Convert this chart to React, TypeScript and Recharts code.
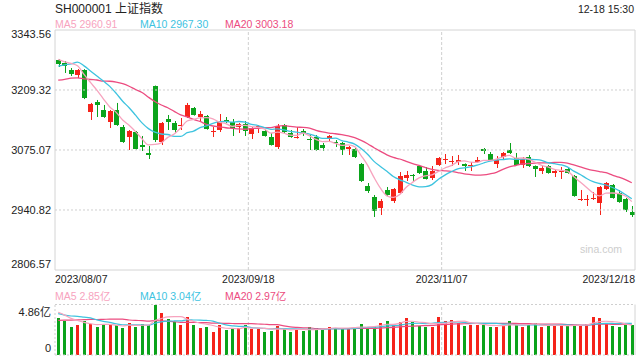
import React from 'react';
import { ComposedChart, Bar, Line, XAxis, YAxis, ReferenceLine } from 'recharts';

const RED = '#f5231a';
const GREEN = '#0ba31b';
const MA5C = '#f7a3be';
const MA10C = '#3dc3df';
const MA20C = '#ec4c80';
const GRID = '#cfcfcf';
const BORDER = '#d4d4d4';
const FONT = '"Liberation Sans", Arial, "Noto Sans CJK SC", sans-serif';

const W = 640;
const MARGIN_RIGHT = 5;
const MAIN_TOP = 30;
const MAIN_AXIS_H = 30;
const MAIN_H = 300;

const title = 'SH000001 上证指数';
const timeLabel = '12-18 15:30';
const priceLegend = ['MA5 2960.91', 'MA10 2967.30', 'MA20 3003.18'];
const volLegend = ['MA5 2.85亿', 'MA10 3.04亿', 'MA20 2.97亿'];
const priceTicks = [2806.57, 2940.82, 3075.07, 3209.32, 3343.56];
const volTicks = [0, 4.86];
const volTickLabels = ['0', '4.86亿'];
// session index where each date label / vertical gridline sits (band start; last = band end)
const dateTicks = [0, 30, 60, 89];
const dateLabels = ['2023/08/07', '2023/09/18', '2023/11/07', '2023/12/18'];
const watermark = 'sina.com';

// closes of the 19 sessions before 2023/08/07 (for the moving averages)
const priorCloses = [3221, 3196, 3236, 3237, 3209, 3198, 3199, 3169, 3168, 3165,
  3231, 3223, 3216, 3276, 3291, 3290, 3262, 3281, 3288];
const priorVolumes = [2.6, 2.7, 2.5, 2.9, 2.6, 2.8, 2.5, 2.6, 2.7, 2.9,
  4.6, 3.6, 3.3, 4.0, 3.75, 4.6, 4.3, 3.9, 4.15];

const opens = [3276.4, 3269.7, 3254.1, 3242.9, 3254.1, 3160.1, 3182.5, 3164.6, 3137.7, 3164.6,
  3126.5, 3104.1, 3115.3, 3086.2, 3068.4, 3218.3, 3092.9, 3144.4, 3135.5, 3128.7,
  3148.9, 3169.0, 3148.9, 3151.1, 3115.3, 3119.8, 3142.2, 3137.7, 3126.5, 3133.2,
  3110.9, 3126.5, 3117.6, 3104.1, 3081.8, 3131.0, 3113.1, 3101.9, 3117.6, 3099.7,
  3104.1, 3086.2, 3101.9, 3092.9, 3090.7, 3077.3, 3077.3, 3043.7, 2994.5, 2969.9,
  2945.3, 2985.6, 2961.0, 2978.9, 3012.4, 3019.1, 3039.3, 3028.1, 3012.4, 3041.5,
  3052.7, 3048.2, 3048.2, 3043.7, 3039.3, 3048.2, 3077.3, 3066.1, 3043.7, 3059.4,
  3075.1, 3057.2, 3041.5, 3059.4, 3039.3, 3028.1, 3039.3, 3023.6, 3025.8, 3032.6,
  3016.9, 2963.2, 2963.2, 2965.4, 2956.5, 2987.8, 2996.8, 2978.9, 2965.4, 2936.3];

const highs = [3278.7, 3274.2, 3258.5, 3256.3, 3256.0, 3180.3, 3187.0, 3175.8, 3164.6, 3180.3,
  3131.0, 3119.8, 3117.6, 3106.4, 3084.0, 3219.3, 3137.7, 3153.4, 3139.9, 3146.6,
  3180.3, 3171.3, 3162.3, 3153.4, 3126.5, 3155.6, 3148.9, 3144.4, 3135.5, 3139.9,
  3126.5, 3131.0, 3119.8, 3113.1, 3133.2, 3133.2, 3119.8, 3126.5, 3122.0, 3108.6,
  3108.6, 3090.7, 3108.6, 3097.4, 3092.9, 3084.0, 3079.5, 3046.0, 3001.2, 2974.4,
  2965.4, 2992.3, 2990.0, 3025.8, 3028.1, 3021.4, 3041.5, 3037.0, 3039.3, 3059.4,
  3066.1, 3061.6, 3063.9, 3045.0, 3048.2, 3059.4, 3079.5, 3070.6, 3061.6, 3070.6,
  3090.7, 3068.4, 3059.4, 3063.9, 3040.5, 3039.3, 3041.5, 3030.3, 3037.0, 3037.0,
  3019.1, 2985.6, 2974.4, 2981.1, 2994.5, 3003.5, 2999.0, 2985.6, 2967.7, 2949.8];

const lows = [3260.8, 3247.4, 3240.6, 3236.2, 3189.0, 3142.2, 3148.9, 3147.0, 3124.3, 3129.0,
  3091.0, 3075.1, 3076.0, 3072.8, 3054.9, 3092.9, 3086.2, 3119.8, 3113.1, 3119.8,
  3146.6, 3152.0, 3137.7, 3120.5, 3104.1, 3115.3, 3135.5, 3106.4, 3113.1, 3106.4,
  3099.7, 3113.1, 3105.0, 3085.0, 3077.3, 3113.1, 3102.5, 3100.5, 3106.4, 3075.1,
  3072.8, 3072.8, 3092.9, 3081.8, 3063.9, 3063.9, 3057.2, 3003.5, 2978.9, 2925.2,
  2929.6, 2972.1, 2956.5, 2977.0, 3005.7, 3005.7, 3021.4, 3009.0, 3007.9, 3039.3,
  3043.7, 3039.3, 3041.5, 3028.1, 3028.1, 3046.0, 3066.1, 3051.0, 3034.8, 3052.7,
  3066.1, 3040.0, 3034.8, 3037.0, 3014.7, 3021.4, 3022.0, 3014.7, 3010.2, 3022.0,
  2970.5, 2961.0, 2949.8, 2963.2, 2929.6, 2985.6, 2966.0, 2957.0, 2936.3, 2925.2];

const closes = [3267.5, 3263.0, 3245.1, 3254.1, 3191.4, 3178.0, 3175.8, 3148.9, 3162.3, 3131.0,
  3092.9, 3117.6, 3077.3, 3081.8, 3063.9, 3097.4, 3135.5, 3137.7, 3119.8, 3131.0,
  3175.8, 3153.4, 3155.6, 3122.0, 3117.6, 3137.7, 3137.7, 3124.3, 3133.2, 3117.6,
  3124.3, 3128.7, 3106.4, 3086.2, 3128.7, 3115.3, 3104.1, 3104.1, 3113.1, 3097.4,
  3075.1, 3079.5, 3106.4, 3090.7, 3075.1, 3081.8, 3059.4, 3005.7, 2983.3, 2938.6,
  2961.0, 2974.4, 2987.8, 3016.9, 3019.1, 3016.9, 3023.6, 3010.2, 3028.1, 3057.2,
  3054.9, 3050.5, 3052.7, 3039.3, 3041.5, 3052.7, 3072.8, 3052.7, 3052.7, 3068.4,
  3068.4, 3041.5, 3054.9, 3039.3, 3032.6, 3034.8, 3023.6, 3028.1, 3028.1, 3023.6,
  2972.1, 2965.4, 2965.4, 2967.7, 2992.3, 3001.2, 2967.7, 2958.7, 2940.8, 2929.6];

const volumes = [3.60, 3.24, 2.72, 2.92, 3.24, 3.01, 2.72, 2.85, 2.92, 2.85,
  2.62, 3.11, 2.72, 3.01, 2.92, 4.86, 4.02, 3.50, 3.14, 2.92,
  3.69, 2.92, 2.62, 2.72, 2.24, 2.92, 2.37, 2.53, 2.56, 2.92,
  2.53, 2.53, 2.24, 2.33, 2.82, 2.49, 2.24, 2.43, 2.33, 2.66,
  2.56, 2.49, 2.72, 2.59, 2.59, 2.59, 2.69, 3.01, 2.59, 2.79,
  3.11, 3.30, 2.92, 3.21, 3.60, 3.21, 2.82, 2.72, 2.72, 3.69,
  3.30, 3.40, 3.11, 2.82, 2.92, 2.92, 2.92, 2.72, 2.72, 2.82,
  3.30, 2.92, 2.72, 2.92, 3.11, 2.72, 2.82, 2.82, 2.82, 2.92,
  2.82, 2.92, 3.01, 3.69, 3.60, 3.01, 2.75, 2.72, 2.90, 2.92];

const avg = (arr: number[], end: number, n: number) => {
  let s = 0;
  for (let k = end - n + 1; k <= end; k++) s += arr[k];
  return s / n;
};

const allC = [...priorCloses, ...closes];
const allV = [...priorVolumes, ...volumes];
const P = priorCloses.length;

const data = closes.map((c, i) => {
  const k = i + P;
  return {
    i,
    open: opens[i],
    high: highs[i],
    low: lows[i],
    close: c,
    range: [lows[i], highs[i]],
    up: c >= opens[i],
    vol: volumes[i],
    ma5: avg(allC, k, 5),
    ma10: avg(allC, k, 10),
    ma20: avg(allC, k, 20),
    vma5: avg(allV, k, 5),
    vma10: avg(allV, k, 10),
    vma20: avg(allV, k, 20),
  };
});

const Candle = (props: any) => {
  const { x, y, width, height, payload } = props;
  const { open, close, high, low } = payload;
  const color = close >= open ? RED : GREEN;
  const top = height >= 0 ? y : y + height;
  const span = Math.abs(height);
  const k = span / (high - low || 1);
  const yO = top + (high - open) * k;
  const yC = top + (high - close) * k;
  const bTop = Math.min(yO, yC);
  const bH = Math.max(1, Math.abs(yO - yC));
  const cx = Math.round(x + width / 2) + 0.5;
  return (
    <g>
      <line x1={cx} x2={cx} y1={top} y2={top + span} stroke={color} strokeWidth={1} />
      <rect x={Math.round(x)} y={bTop} width={width} height={bH} fill={color} shapeRendering="crispEdges" />
    </g>
  );
};

const VolBar = (props: any) => {
  const { x, y, width, height, payload } = props;
  return <rect x={Math.round(x)} y={y} width={width} height={height} fill={payload.up ? RED : GREEN} shapeRendering="crispEdges" />;
};

// date label attached to a vertical reference line (same scale as the gridlines)
const makeDateLabel = (idx: number) => (props: any) => {
  const vb = props.viewBox || {};
  const x = vb.x ?? 0;
  const yBottom = (vb.y ?? 0) + (vb.height ?? 0);
  const anchor = idx === 0 ? 'start' : idx === dateTicks.length - 1 ? 'end' : 'middle';
  return (
    <text x={x} y={yBottom + 13} textAnchor={anchor} fontSize={10.5} fontFamily={FONT} fill="#222">
      {dateLabels[idx]}
    </text>
  );
};

const PriceTick = (props: any) => {
  const { x, y, payload } = props;
  const v = payload.value;
  const dy = v === priceTicks[priceTicks.length - 1] ? 8 : v === priceTicks[0] ? -2 : 4;
  return (
    <text x={x - 4} y={y + dy} textAnchor="end" fontSize={11} fontFamily={FONT} fill="#222">
      {v.toFixed(2)}
    </text>
  );
};

const VolTick = (props: any) => {
  const { x, y, payload } = props;
  const idx = volTicks.indexOf(payload.value);
  const dy = idx === 0 ? -3 : 11;
  return (
    <text x={x - 4} y={y + dy} textAnchor="end" fontSize={11} fontFamily={FONT} fill="#222">
      {volTickLabels[idx]}
    </text>
  );
};

export default function App() {
  const legendX = [55, 140, 225];
  const legendC = [MA5C, MA10C, MA20C];
  const lastK = dateTicks.length - 1;
  return (
    <div style={{ position: 'fixed', left: 0, top: 0, width: W, height: 360, background: '#fff' }}>
      <div style={{ position: 'absolute', left: 0, top: 0 }}>
        <ComposedChart width={W} height={MAIN_H} data={data} margin={{ top: MAIN_TOP, right: MARGIN_RIGHT, bottom: MAIN_AXIS_H, left: 0 }}>
          <XAxis dataKey="i" type="category" hide />
          <YAxis domain={[priceTicks[0], priceTicks[4]]} ticks={priceTicks} interval={0} width={55}
            tickSize={0} tickMargin={0} axisLine={false} tickLine={false} tick={<PriceTick />} allowDataOverflow />
          {priceTicks.slice(1, 4).map((t) => (
            <ReferenceLine key={t} y={t} stroke={GRID} strokeDasharray="2 2" />
          ))}
          <ReferenceLine y={priceTicks[0]} stroke={BORDER} />
          <ReferenceLine y={priceTicks[4]} stroke={BORDER} />
          {dateTicks.map((t, k) => (
            <ReferenceLine key={'d' + t} x={t}
              position={k === lastK ? 'end' : 'start'}
              stroke={k === 0 || k === lastK ? BORDER : GRID}
              strokeDasharray={k === 0 || k === lastK ? undefined : '3 2'}
              label={makeDateLabel(k)} />
          ))}
          <Line dataKey="ma20" stroke={MA20C} strokeWidth={1.3} dot={false} type="monotone" isAnimationActive={false} />
          <Line dataKey="ma10" stroke={MA10C} strokeWidth={1.3} dot={false} type="monotone" isAnimationActive={false} />
          <Line dataKey="ma5" stroke={MA5C} strokeWidth={1.3} dot={false} type="monotone" isAnimationActive={false} />
          <Bar dataKey="range" barSize={5} shape={Candle} isAnimationActive={false} />
        </ComposedChart>
      </div>
      <div style={{ position: 'absolute', left: 0, top: 300 }}>
        <ComposedChart width={W} height={60} data={data} margin={{ top: 4.5, right: MARGIN_RIGHT, bottom: 5, left: 0 }}>
          <XAxis dataKey="i" type="category" hide />
          <YAxis domain={[0, 4.86]} ticks={volTicks} interval={0} width={55}
            tickSize={0} tickMargin={0} axisLine={false} tickLine={false} tick={<VolTick />} allowDataOverflow />
          <ReferenceLine y={4.86} stroke={GRID} strokeDasharray="2 2" />
          <ReferenceLine y={0} stroke={GRID} strokeDasharray="2 2" />
          {dateTicks.map((t, k) => (
            <ReferenceLine key={'v' + t} x={t}
              position={k === lastK ? 'end' : 'start'}
              stroke={k === lastK ? BORDER : GRID}
              strokeDasharray={k === lastK ? undefined : k === 0 ? '2 2' : '3 2'} />
          ))}
          <Bar dataKey="vol" barSize={3} shape={VolBar} isAnimationActive={false} />
          <Line dataKey="vma20" stroke={MA20C} strokeWidth={1.2} dot={false} type="monotone" isAnimationActive={false} />
          <Line dataKey="vma10" stroke={MA10C} strokeWidth={1.2} dot={false} type="monotone" isAnimationActive={false} />
          <Line dataKey="vma5" stroke={MA5C} strokeWidth={1.2} dot={false} type="monotone" isAnimationActive={false} />
        </ComposedChart>
      </div>
      <svg width={W} height={360} style={{ position: 'absolute', left: 0, top: 0, pointerEvents: 'none' }}>
        <text x={55} y={13} fontSize={12} fontFamily={FONT} fill="#222">{title}</text>
        <text x={634} y={13} fontSize={10.5} fontFamily={FONT} fill="#222" textAnchor="end">{timeLabel}</text>
        {priceLegend.map((t, k) => (
          <text key={t} x={legendX[k]} y={27.5} fontSize={10.5} fontFamily={FONT} fill={legendC[k]}>{t}</text>
        ))}
        {volLegend.map((t, k) => (
          <text key={t} x={legendX[k]} y={299.5} fontSize={10.5} fontFamily={FONT} fill={legendC[k]}>{t}</text>
        ))}
        <text x={622} y={253} fontSize={10.5} fontFamily={FONT} fill="#cdcdcd" textAnchor="end">{watermark}</text>
      </svg>
    </div>
  );
}
